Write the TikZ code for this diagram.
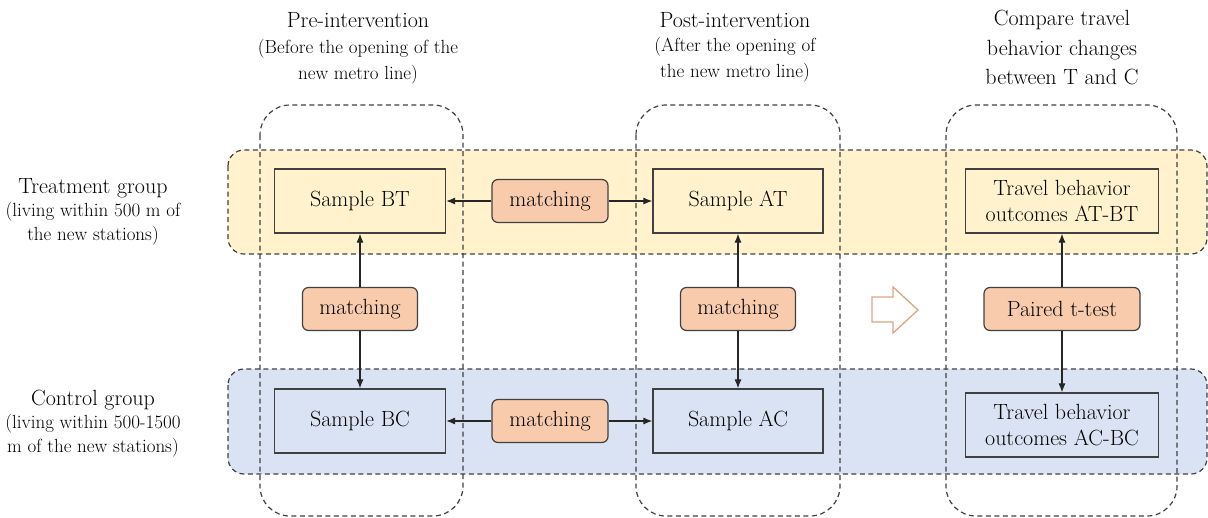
\documentclass[tikz,border=0pt]{standalone}
\usepackage{fontspec}
\usetikzlibrary{arrows.meta}
\definecolor{tband}{HTML}{FFF2CC}
\definecolor{cband}{HTML}{DAE3F3}
\definecolor{mfill}{HTML}{F8CBAD}
\definecolor{lineg}{HTML}{404040}
\definecolor{arrowc}{HTML}{DDA482}
\begin{document}
\begin{tikzpicture}[x=1pt,y=-1pt,
  sample/.style={draw=lineg, line width=1.2pt, minimum height=64pt, inner sep=0pt, align=center,
    font=\fontsize{22}{26}\selectfont},
  matchbox/.style={draw=lineg, fill=mfill, rounded corners=6pt, line width=1.2pt, minimum height=43pt,
    inner sep=0pt, font=\fontsize{22}{26}\selectfont},
  dashline/.style={draw=lineg, line width=1.2pt, dash pattern=on 5pt off 3.5pt},
  band/.style={dashline, rounded corners=16pt},
  colbox/.style={dashline, rounded corners=30pt},
  conn/.style={-{Latex[length=9pt,width=7pt]}, line width=1.1pt, draw=black!85},
  titletext/.style={anchor=base, font=\fontsize{22}{26}\selectfont, inner sep=0pt},
  subtext/.style={anchor=base, font=\fontsize{19}{24}\selectfont, inner sep=0pt}
]
\useasboundingbox (0,0) rectangle (1208,517);

% bands
\draw[band, fill=tband] (228,150) rectangle (1207,254);
\draw[band, fill=cband] (228,369) rectangle (1207,474);

% columns
\draw[colbox] (260,105) rectangle (463,516);
\draw[colbox] (636,105) rectangle (840,516);
\draw[colbox] (946,105) rectangle (1177,516);

% titles
\node[titletext] (t1) at (358,27) {Pre-intervention};
\node[subtext] (t1a) at (358,53) {(Before the opening of the};
\node[subtext] (t1b) at (358,79) {new metro line)};
\node[titletext] (t2) at (735,27) {Post-intervention};
\node[subtext] (t2a) at (735,51) {(After the opening of};
\node[subtext] (t2b) at (735,77) {the new metro line)};
\node[titletext] (t3a) at (1062,25) {Compare travel};
\node[titletext] (t3b) at (1062,55) {behavior changes};
\node[titletext] (t3c) at (1062,84) {between T and C};

% left labels
\node[titletext] (g1) at (93,193) {Treatment group};
\node[subtext] (g1a) at (93,216) {(living within 500 m of};
\node[subtext] (g1b) at (93,240) {the new stations)};
\node[titletext] (g2) at (93,405) {Control group};
\node[subtext] (g2a) at (93,428) {(living within 500-1500};
\node[subtext] (g2b) at (93,452) {m of the new stations)};

% sample boxes
\node[sample, minimum width=171pt] (bt) at (360,201) {Sample BT};
\node[sample, minimum width=170pt] (at) at (738,201) {Sample AT};
\node[sample, minimum width=193pt] (trt) at (1062,201) {Travel behavior\\outcomes AT-BT};
\node[sample, minimum width=171pt] (bc) at (360,421) {Sample BC};
\node[sample, minimum width=170pt] (ac) at (738,421) {Sample AC};
\node[sample, minimum width=193pt] (trc) at (1062,425) {Travel behavior\\outcomes AC-BC};

% matching boxes
\node[matchbox, minimum width=116pt] (mt) at (550,201) {matching};
\node[matchbox, minimum width=116pt] (mb) at (550,421) {matching};
\node[matchbox, minimum width=115pt] (ml) at (360,309) {matching};
\node[matchbox, minimum width=115pt] (mm) at (738,309) {matching};
\node[matchbox, minimum width=156pt] (pt) at (1062,309) {Paired t-test};

% connectors
\draw[conn] (mt.west) -- (bt.east);
\draw[conn] (mt.east) -- (at.west);
\draw[conn] (mb.west) -- (bc.east);
\draw[conn] (mb.east) -- (ac.west);
\draw[conn] (ml.north) -- (bt.south);
\draw[conn] (ml.south) -- (bc.north);
\draw[conn] (mm.north) -- (at.south);
\draw[conn] (mm.south) -- (ac.north);
\draw[conn] (pt.north) -- (trt.south);
\draw[conn] (pt.south) -- (trc.north);

% hollow arrow
\draw[arrowc, line width=1.3pt, fill=white, line join=miter]
  (872,297) -- (893,297) -- (893,287) -- (918,310) -- (893,333) -- (893,322) -- (872,322) -- cycle;
\end{tikzpicture}
\end{document}
